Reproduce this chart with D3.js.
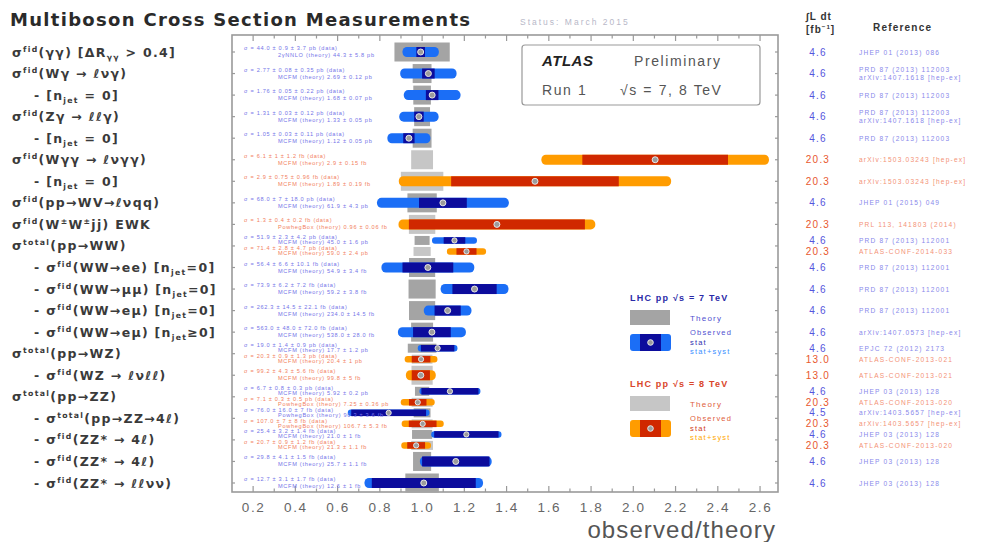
<!DOCTYPE html>
<html>
<head>
<meta charset="utf-8">
<script src="https://cdn.jsdelivr.net/npm/d3@7"></script>
<style>
  html, body { margin: 0; padding: 0; background: #fff; }
  svg { display: block; }
</style>
</head>
<body>
<svg id="chart" width="985" height="542"></svg>
<script>
// ---- Measurement rows (labels on the left, top to bottom) ----
const rowLabels = [
  "σ^{fid}(γγ) [ΔR_{γγ} > 0.4]",
  "σ^{fid}(Wγ → ℓνγ)",
  "- [n_{jet} = 0]",
  "σ^{fid}(Zγ → ℓℓγ)",
  "- [n_{jet} = 0]",
  "σ^{fid}(Wγγ → ℓνγγ)",
  "- [n_{jet} = 0]",
  "σ^{fid}(pp→WV→ℓνqq)",
  "σ^{fid}(W^{±}W^{±}jj) EWK",
  "σ^{total}(pp→WW)",
  "- σ^{fid}(WW→ee) [n_{jet}=0]",
  "- σ^{fid}(WW→μμ) [n_{jet}=0]",
  "- σ^{fid}(WW→eμ) [n_{jet}=0]",
  "- σ^{fid}(WW→eμ) [n_{jet}≥0]",
  "σ^{total}(pp→WZ)",
  "- σ^{fid}(WZ → ℓνℓℓ)",
  "σ^{total}(pp→ZZ)",
  "- σ^{total}(pp→ZZ→4ℓ)",
  "- σ^{fid}(ZZ* → 4ℓ)",
  "- σ^{fid}(ZZ* → 4ℓ)",
  "- σ^{fid}(ZZ* → ℓℓνν)"
];
const rowIndent = [0,0,1,0,1,0,1,0,0,0,1,1,1,1,0,1,0,1,1,1,1];

// ---- One entry per measurement (row index, centre-of-mass energy) ----
const entryRow    = [0,1,2,3,4,5,6,7,8,9,9,10,11,12,13,14,14,15,16,16,17,17,18,18,19,20];
const entryEnergy = [7,7,7,7,7,8,8,7,8,7,8,7,7,7,7,7,8,8,7,8,7,8,7,8,7,7];

// measured cross section, stat. and syst. uncertainties
const sigmaData = [44.0,2.77,1.76,1.31,1.05,6.1,2.9,68,1.3,51.9,71.4,56.4,73.9,262.3,563,19.0,20.3,99.2,6.7,7.1,76,107,25.4,20.7,29.8,12.7];
const sigmaStat = [0.9,0.08,0.05,0.03,0.03,1.0,0.75,7,0.4,2.3,2.8,6.6,6.2,14.5,48,1.4,0.9,4.3,0.8,0.3,16,7,3.2,0.9,4.1,3.1];
const sigmaSyst = [3.7,0.35,0.22,0.12,0.11,1.2,0.96,18,0.2,4.2,4.7,10.1,7.2,22.1,72,0.9,1.3,5.6,0.3,0.5,7,8,1.4,1.2,1.5,1.7];
// theory prediction and its uncertainty
const sigmaTheory = [44.3,2.69,1.68,1.33,1.12,2.9,1.89,61.9,0.96,45.0,59.0,54.9,59.2,234,538,17.7,20.4,99.8,5.92,7.25,90.3,106.7,21.0,21.3,25.7,12.6];
const theoryErr   = [5.8,0.12,0.07,0.05,0.05,0.15,0.19,4.3,0.06,1.6,2.4,3.4,3.8,14.5,28,1.2,1.0,5.0,0.2,0.36,3.6,5.3,1.0,1.1,1.1,1.0];
const sigmaUnit   = ["pb","pb","pb","pb","pb","fb","fb","pb","fb","pb","pb","fb","fb","fb","fb","pb","pb","fb","pb","pb","fb","fb","fb","fb","fb","fb"];
const theoryName  = ["2γNNLO","MCFM","MCFM","MCFM","MCFM","MCFM","MCFM","MCFM","PowhegBox","MCFM","MCFM","MCFM","MCFM","MCFM","MCFM","MCFM","MCFM","MCFM","MCFM","PowhegBox","PowhegBox","PowhegBox","MCFM","MCFM","MCFM","MCFM"];

// integrated luminosity [fb^-1] and publication reference
const lumi = ["4.6","4.6","4.6","4.6","4.6","20.3","20.3","4.6","20.3","4.6","20.3","4.6","4.6","4.6","4.6","4.6","13.0","13.0","4.6","20.3","4.5","20.3","4.6","20.3","4.6","4.6"];
const reference = [
  ["JHEP 01 (2013) 086"],
  ["PRD 87 (2013) 112003","arXiv:1407.1618 [hep-ex]"],
  ["PRD 87 (2013) 112003"],
  ["PRD 87 (2013) 112003","arXiv:1407.1618 [hep-ex]"],
  ["PRD 87 (2013) 112003"],
  ["arXiv:1503.03243 [hep-ex]"],
  ["arXiv:1503.03243 [hep-ex]"],
  ["JHEP 01 (2015) 049"],
  ["PRL 113, 141803 (2014)"],
  ["PRD 87 (2013) 112001"],
  ["ATLAS-CONF-2014-033"],
  ["PRD 87 (2013) 112001"],
  ["PRD 87 (2013) 112001"],
  ["PRD 87 (2013) 112001"],
  ["arXiv:1407.0573 [hep-ex]"],
  ["EPJC 72 (2012) 2173"],
  ["ATLAS-CONF-2013-021"],
  ["ATLAS-CONF-2013-021"],
  ["JHEP 03 (2013) 128"],
  ["ATLAS-CONF-2013-020"],
  ["arXiv:1403.5657 [hep-ex]"],
  ["arXiv:1403.5657 [hep-ex]"],
  ["JHEP 03 (2013) 128"],
  ["ATLAS-CONF-2013-020"],
  ["JHEP 03 (2013) 128"],
  ["JHEP 03 (2013) 128"]
];

const xTicks = [0.2,0.4,0.6,0.8,1.0,1.2,1.4,1.6,1.8,2.0,2.2,2.4,2.6];

// ---- styling ----
const palette = {
  7: { total: "#1b6ef6", stat: "#0c0c9c", theory: "#a4a4a4", text: "#7474e8", lumi: "#5555dd" },
  8: { total: "#ff9c00", stat: "#d02800", theory: "#c6c6c6", text: "#f28060", lumi: "#e8582e" }
};
const SANS = "Liberation Sans, Arial, sans-serif";

const svg = d3.select("#chart");
const plot = { left: 232, right: 778, top: 35, bottom: 492 };

const x = d3.scaleLinear().domain([0.1, 2.685]).range([plot.left, plot.right]);
const y = d3.scaleLinear().domain([0, rowLabels.length - 1]).range([52, 483]);

// build entry records
const rowCount = d3.rollup(entryRow, v => v.length, d => d);
const entries = entryRow.map((r, i) => {
  const th = sigmaTheory[i];
  const tot = Math.sqrt(sigmaStat[i] ** 2 + sigmaSyst[i] ** 2);
  const dbl = rowCount.get(r) > 1;
  return {
    i, row: r, e: entryEnergy[i], dbl,
    yc: y(r) + (dbl ? (entryEnergy[i] === 7 ? -5.5 : 5.5) : 0),
    obs: sigmaData[i] / th,
    statLo: (sigmaData[i] - sigmaStat[i]) / th, statHi: (sigmaData[i] + sigmaStat[i]) / th,
    totLo: (sigmaData[i] - tot) / th, totHi: (sigmaData[i] + tot) / th,
    thLo: 1 - theoryErr[i] / th, thHi: 1 + theoryErr[i] / th
  };
});

// text with ^{..} superscripts and _{..} subscripts
function richText(sel, str, size) {
  const parts = [];
  const re = /([\^_])\{([^}]*)\}/g;
  let last = 0, m;
  while ((m = re.exec(str)) !== null) {
    if (m.index > last) parts.push({ t: str.slice(last, m.index), k: "n" });
    parts.push({ t: m[2], k: m[1] === "^" ? "sup" : "sub" });
    last = re.lastIndex;
  }
  if (last < str.length) parts.push({ t: str.slice(last), k: "n" });
  let cur = 0;
  parts.forEach(p => {
    const target = p.k === "sup" ? -size * 0.4 : p.k === "sub" ? size * 0.25 : 0;
    sel.append("tspan")
      .attr("dy", target - cur)
      .attr("font-size", p.k === "n" ? size : size * 0.62)
      .text(p.t);
    cur = target;
  });
}

// ---- title and column headers ----
svg.append("text").attr("x", 10).attr("y", 26)
  .attr("font-family", "DejaVu Sans, sans-serif").attr("font-weight", "bold")
  .attr("font-size", 18).attr("letter-spacing", 1.3).attr("fill", "#2a2a2a")
  .text("Multiboson Cross Section Measurements");
svg.append("text").attr("x", 520).attr("y", 25)
  .attr("font-family", SANS).attr("font-size", 8.5)
  .attr("fill", "#b8b8c8").attr("letter-spacing", 2)
  .text("Status: March 2015");

const hdr = svg.append("g").attr("font-family", SANS).attr("font-weight", "bold").attr("fill", "#333");
hdr.append("text").attr("x", 806).attr("y", 20).attr("font-size", 10).attr("letter-spacing", 1).text("∫L dt");
const h2 = hdr.append("text").attr("x", 806).attr("y", 33).attr("letter-spacing", 1);
richText(h2, "[fb^{−1}]", 10);
hdr.append("text").attr("x", 873).attr("y", 31).attr("font-size", 10).attr("letter-spacing", 1.2).text("Reference");

// ---- row labels ----
const lab = svg.append("g").attr("font-family", "DejaVu Sans, sans-serif")
  .attr("font-weight", "bold").attr("fill", "#3a3a3a").attr("letter-spacing", 1.3);
rowLabels.forEach((s, r) => {
  const t = lab.append("text").attr("x", rowIndent[r] ? 34 : 12).attr("y", y(r) + 4.5);
  richText(t, s, 12.5);
});

// ---- plot frame and axes ----
svg.append("rect")
  .attr("x", plot.left).attr("y", plot.top)
  .attr("width", plot.right - plot.left).attr("height", plot.bottom - plot.top)
  .attr("fill", "none").attr("stroke", "#9a9a9a").attr("stroke-width", 1.6);

const minor = d3.range(0.2, 2.65, 0.1);
const tickG = svg.append("g").attr("stroke", "#999").attr("stroke-width", 1.2);
minor.forEach(v => {
  const major = Math.abs(Math.round(v * 10) % 2) === 0;
  const len = major ? 6 : 3.5;
  tickG.append("line").attr("x1", x(v)).attr("x2", x(v)).attr("y1", plot.bottom).attr("y2", plot.bottom - len);
  tickG.append("line").attr("x1", x(v)).attr("x2", x(v)).attr("y1", plot.top).attr("y2", plot.top + len);
});
rowLabels.forEach((s, r) => {
  tickG.append("line").attr("x1", plot.left).attr("x2", plot.left + 3).attr("y1", y(r)).attr("y2", y(r));
  tickG.append("line").attr("x1", plot.right).attr("x2", plot.right - 3).attr("y1", y(r)).attr("y2", y(r));
});

const xAxis = d3.axisBottom(x).tickValues(xTicks).tickFormat(d3.format(".1f")).tickSize(0).tickPadding(10);
const ax = svg.append("g").attr("transform", `translate(0,${plot.bottom})`).call(xAxis);
ax.select(".domain").remove();
ax.selectAll("text").attr("font-family", SANS)
  .attr("font-size", 13.5).attr("fill", "#666").attr("letter-spacing", 1.6);

svg.append("text").attr("x", 776).attr("y", 538).attr("text-anchor", "end")
  .attr("font-family", SANS).attr("font-size", 24).attr("letter-spacing", 1.1).attr("fill", "#555")
  .text("observed/theory");

// ---- theory bands ----
const g = svg.append("g");
g.selectAll("rect.theory").data(entries).join("rect").attr("class", "theory")
  .attr("x", d => x(d.thLo)).attr("width", d => x(d.thHi) - x(d.thLo))
  .attr("y", d => d.yc - (d.dbl ? 4.5 : 9.5)).attr("height", d => d.dbl ? 9 : 19)
  .attr("fill", d => palette[d.e].theory);

// ---- total and statistical uncertainty bars ----
g.selectAll("rect.total").data(entries).join("rect").attr("class", "total")
  .attr("x", d => x(d.totLo)).attr("width", d => x(d.totHi) - x(d.totLo))
  .attr("y", d => d.yc - (d.dbl ? 3.25 : 5)).attr("height", d => d.dbl ? 6.5 : 10)
  .attr("rx", d => d.dbl ? 3 : 4.5)
  .attr("fill", d => palette[d.e].total);
g.selectAll("rect.stat").data(entries).join("rect").attr("class", "stat")
  .attr("x", d => x(d.statLo)).attr("width", d => x(d.statHi) - x(d.statLo))
  .attr("y", d => d.yc - (d.dbl ? 3.25 : 5)).attr("height", d => d.dbl ? 6.5 : 10)
  .attr("fill", d => palette[d.e].stat);
g.selectAll("circle.obs").data(entries).join("circle").attr("class", "obs")
  .attr("cx", d => x(d.obs)).attr("cy", d => d.yc).attr("r", d => d.dbl ? 2.6 : 3)
  .attr("fill", "#9c9c9c").attr("stroke", "#e8e8e8").attr("stroke-width", 1);

// ---- values written inside the plot ----
const fmtVal = v => (Math.abs(v) >= 10 ? d3.format(".1f")(v) : d3.format(".2~f")(v));
const vt = svg.append("g").attr("font-family", SANS).attr("font-size", 5.6).attr("letter-spacing", 0.7);
entries.forEach(d => {
  const i = d.i;
  vt.append("text").attr("x", 244).attr("y", d.yc - (d.dbl ? 1 : 2)).attr("fill", palette[d.e].text)
    .text(`σ = ${fmtVal(sigmaData[i])} ± ${fmtVal(sigmaStat[i])} ± ${fmtVal(sigmaSyst[i])} ${sigmaUnit[i]} (data)`);
  vt.append("text").attr("x", 278).attr("y", d.yc + (d.dbl ? 4 : 5)).attr("fill", palette[d.e].text)
    .text(`${theoryName[i]} (theory) ${fmtVal(sigmaTheory[i])} ± ${fmtVal(theoryErr[i])} ${sigmaUnit[i]}`);
});

// ---- luminosity and reference columns ----
const col = svg.append("g").attr("font-family", SANS);
entries.forEach(d => {
  const i = d.i;
  col.append("text").attr("x", 818).attr("y", d.yc + 3.5).attr("text-anchor", "middle")
    .attr("font-size", 10).attr("letter-spacing", 1.2).attr("fill", palette[d.e].lumi).text(lumi[i]);
  const refs = reference[i];
  refs.forEach((r, k) => {
    col.append("text").attr("x", 859).attr("y", d.yc + 2.5 + (refs.length > 1 ? (k - 0.5) * 8 : 0))
      .attr("font-size", 6.6).attr("letter-spacing", 1.2)
      .attr("fill", palette[d.e].text).attr("opacity", 0.85).text(r);
  });
});

// ---- ATLAS label box ----
const lb = svg.append("g").attr("font-family", SANS);
lb.append("rect").attr("x", 522).attr("y", 45).attr("width", 238).attr("height", 60).attr("rx", 3)
  .attr("fill", "#fff").attr("stroke", "#999").attr("stroke-width", 1.2);
lb.append("text").attr("x", 542).attr("y", 66).attr("font-size", 15).attr("font-weight", "bold")
  .attr("font-style", "italic").attr("letter-spacing", 0.5).attr("fill", "#222").text("ATLAS");
lb.append("text").attr("x", 634).attr("y", 66).attr("font-size", 14).attr("letter-spacing", 1.6).attr("fill", "#555").text("Preliminary");
lb.append("text").attr("x", 542).attr("y", 95).attr("font-size", 14).attr("letter-spacing", 1.6).attr("fill", "#555").text("Run 1");
lb.append("text").attr("x", 620).attr("y", 95).attr("font-size", 14).attr("letter-spacing", 1.6).attr("fill", "#555").text("√s = 7, 8 TeV");

// ---- colour legend ----
const lg = svg.append("g").attr("font-family", SANS).attr("letter-spacing", 1.2);
[[7, 298], [8, 384]].forEach(([e, y0]) => {
  const c = palette[e];
  const lc = e === 7 ? "#5050d0" : "#e06040";
  lg.append("text").attr("x", 630).attr("y", y0 + 3).attr("font-size", 9).attr("font-weight", "bold")
    .attr("fill", e === 7 ? "#2a2aa8" : "#d9462a").text(`LHC pp √s = ${e} TeV`);
  lg.append("rect").attr("x", 630).attr("y", y0 + 12).attr("width", 40).attr("height", 15).attr("fill", c.theory);
  lg.append("text").attr("x", 690).attr("y", y0 + 23).attr("font-size", 8).attr("fill", lc).text("Theory");
  lg.append("rect").attr("x", 630).attr("y", y0 + 36).attr("width", 41).attr("height", 17).attr("rx", 3).attr("fill", c.total);
  lg.append("rect").attr("x", 640).attr("y", y0 + 36).attr("width", 21).attr("height", 17).attr("fill", c.stat);
  lg.append("circle").attr("cx", 650.5).attr("cy", y0 + 44.5).attr("r", 2.8).attr("fill", "#9c9c9c").attr("stroke", "#e8e8e8");
  lg.append("text").attr("x", 690).attr("y", y0 + 37).attr("font-size", 7.5).attr("fill", lc).text("Observed");
  lg.append("text").attr("x", 690).attr("y", y0 + 46.5).attr("font-size", 7.5).attr("fill", e === 7 ? "#3030b0" : "#d03a20").text("stat");
  lg.append("text").attr("x", 690).attr("y", y0 + 56).attr("font-size", 7.5).attr("fill", e === 7 ? "#3a90ff" : "#ffa800").text("stat+syst");
});
</script>
</body>
</html>
